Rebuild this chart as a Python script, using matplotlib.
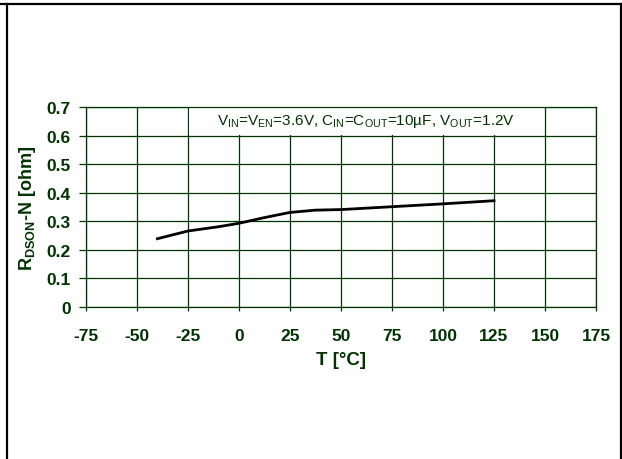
import matplotlib
matplotlib.use("Agg")
import matplotlib.pyplot as plt
from matplotlib.patches import Rectangle
from matplotlib.lines import Line2D

plt.rcParams["font.family"] = ["Liberation Sans", "DejaVu Sans"]
plt.rcParams["mathtext.fontset"] = "custom"
plt.rcParams["mathtext.rm"] = "Liberation Sans"
plt.rcParams["mathtext.sf"] = "Liberation Sans:weight=bold"
plt.rcParams["axes.unicode_minus"] = False

# R_DSON-N vs temperature
temp = [-40, -25, -10, 0, 12.5, 25, 37.5, 50, 75, 100, 125]
rdson = [0.239, 0.266, 0.281, 0.293, 0.313, 0.331, 0.339, 0.341, 0.351, 0.361, 0.372]
xticks = [-75, -50, -25, 0, 25, 50, 75, 100, 125, 150, 175]
yticks = [0, 0.1, 0.2, 0.3, 0.4, 0.5, 0.6, 0.7]
ylabels = ["0", "0.1", "0.2", "0.3", "0.4", "0.5", "0.6", "0.7"]

GRN = "#003300"

fig = plt.figure(figsize=(6.22, 4.6), dpi=100)
ax = fig.add_axes([86 / 622, 1 - 308 / 460, (596 - 86) / 622, (308 - 108) / 460])
ax.set_xlim(-75, 175)
ax.set_ylim(0, 0.7)
ax.set_xticks(xticks)
ax.set_yticks(yticks)
ax.set_yticklabels(ylabels)
ax.set_axisbelow(True)
ax.grid(True, color=GRN, lw=0.9)
for s in ax.spines.values():
    s.set_color(GRN)
    s.set_linewidth(0.9)
ax.tick_params(axis="x", direction="out", length=3, width=0.9, color=GRN,
               pad=12, labelsize=12.5, labelcolor=GRN)
ax.tick_params(axis="y", direction="out", length=5, width=0.9, color=GRN,
               pad=6, labelsize=12.5, labelcolor=GRN)
for lab in ax.get_xticklabels() + ax.get_yticklabels():
    lab.set_fontweight("bold")

# white box behind the condition note
ax.add_patch(Rectangle((-24.4, 0.6 + 0.0025), 173.8, 0.095, facecolor="white",
                       edgecolor="none", zorder=1))
ax.text(62.5, 0.652,
        r"V$_{\rm IN}$=V$_{\rm EN}$=3.6V, C$_{\rm IN}$=C$_{\rm OUT}$=10µF, V$_{\rm OUT}$=1.2V",
        ha="center", va="center", fontsize=11, color=GRN, zorder=3)

ax.plot(temp, rdson, color="black", lw=2.0, zorder=4)

ax.set_xlabel("T [°C]", fontsize=13.5, fontweight="bold", color=GRN, labelpad=6)
ax.set_ylabel(r"R$_{\mathsf{DSON}}$-N [ohm]", fontsize=13, fontweight="bold",
              color=GRN, labelpad=6)

# outer frame (top, left, right)
fig.add_artist(Line2D([0, 1], [1 - 4.5 / 460] * 2, color="black", lw=1.6,
                      transform=fig.transFigure))
fig.add_artist(Line2D([7.5 / 622] * 2, [0, 1 - 4.5 / 460], color="black", lw=1.6,
                      transform=fig.transFigure))
fig.add_artist(Line2D([620.5 / 622] * 2, [0, 1 - 4.5 / 460], color="black", lw=1.6,
                      transform=fig.transFigure))

fig.savefig("out.png", dpi=100)
